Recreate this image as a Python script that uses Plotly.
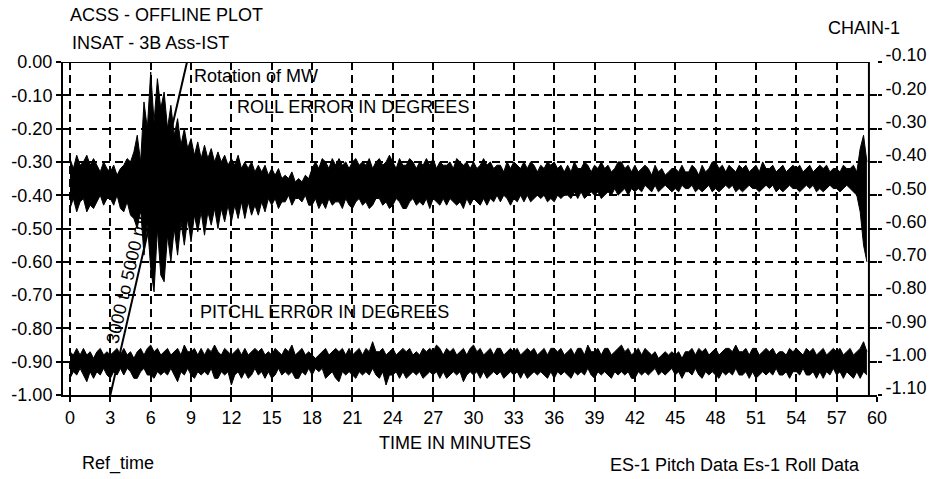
import plotly.graph_objects as go

# ---------------- data ----------------
x_ticks = [0, 3, 6, 9, 12, 15, 18, 21, 24, 27, 30, 33, 36, 39, 42, 45, 48, 51, 54, 57, 60]
x_tick_text = [str(v) for v in x_ticks]
left_ticks = [0.0, -0.1, -0.2, -0.3, -0.4, -0.5, -0.6, -0.7, -0.8, -0.9, -1.0]
left_tick_text = ["0.00", "-0.10", "-0.20", "-0.30", "-0.40", "-0.50", "-0.60", "-0.70", "-0.80", "-0.90", "-1.00"]
right_ticks = [-0.1, -0.2, -0.3, -0.4, -0.5, -0.6, -0.7, -0.8, -0.9, -1.0, -1.1]
right_tick_text = ["-0.10", "-0.20", "-0.30", "-0.40", "-0.50", "-0.60", "-0.70", "-0.80", "-0.90", "-1.00", "-1.10"]

sample_step_min = 0.25  # one reading every quarter minute

# upper / lower edge of the roll-error trace (degrees), 4 readings per minute
roll_upper = [
    -0.29, -0.32, -0.28, -0.31,  -0.30, -0.28, -0.31, -0.29,  -0.31, -0.33, -0.30, -0.32,  # 0-2
    -0.33, -0.31, -0.34, -0.32,  -0.31, -0.29, -0.30, -0.27,  -0.22, -0.30, -0.12, -0.20,  # 3-5
    -0.03, -0.18, -0.05, -0.14,  -0.09, -0.20, -0.13, -0.22,  -0.17, -0.25, -0.20, -0.26,  # 6-8
    -0.23, -0.28, -0.24, -0.29,  -0.25, -0.29, -0.26, -0.30,  -0.27, -0.30, -0.28, -0.31,  # 9-11
    -0.29, -0.31, -0.28, -0.32,  -0.30, -0.32, -0.30, -0.33,  -0.31, -0.33, -0.31, -0.34,  # 12-14
    -0.32, -0.34, -0.32, -0.35,  -0.34, -0.35, -0.33, -0.36,  -0.35, -0.36, -0.34, -0.35,  # 15-17
    -0.32, -0.30, -0.32, -0.29,  -0.30, -0.32, -0.29, -0.31,  -0.29, -0.31, -0.30, -0.32,  # 18-20
    -0.30, -0.29, -0.31, -0.30,  -0.31, -0.29, -0.32, -0.30,  -0.29, -0.31, -0.30, -0.28,  # 21-23
    -0.30, -0.32, -0.29, -0.31,  -0.31, -0.29, -0.30, -0.32,  -0.30, -0.31, -0.29, -0.31,  # 24-26
    -0.29, -0.32, -0.30, -0.31,  -0.31, -0.30, -0.32, -0.29,  -0.30, -0.31, -0.30, -0.32,  # 27-29
    -0.30, -0.32, -0.31, -0.29,  -0.31, -0.30, -0.32, -0.31,  -0.31, -0.33, -0.30, -0.32,  # 30-32
    -0.30, -0.31, -0.32, -0.30,  -0.32, -0.30, -0.31, -0.33,  -0.31, -0.32, -0.30, -0.31,  # 33-35
    -0.30, -0.32, -0.31, -0.33,  -0.31, -0.33, -0.30, -0.32,  -0.32, -0.30, -0.31, -0.33,  # 36-38
    -0.31, -0.32, -0.30, -0.32,  -0.31, -0.33, -0.32, -0.30,  -0.30, -0.32, -0.31, -0.33,  # 39-41
    -0.31, -0.33, -0.32, -0.31,  -0.32, -0.34, -0.31, -0.33,  -0.32, -0.34, -0.33, -0.32,  # 42-44
    -0.32, -0.33, -0.31, -0.33,  -0.33, -0.31, -0.32, -0.34,  -0.31, -0.33, -0.32, -0.30,  # 45-47
    -0.30, -0.32, -0.31, -0.33,  -0.31, -0.32, -0.33, -0.31,  -0.32, -0.31, -0.33, -0.32,  # 48-50
    -0.31, -0.33, -0.30, -0.32,  -0.32, -0.31, -0.33, -0.32,  -0.31, -0.33, -0.32, -0.31,  # 51-53
    -0.32, -0.31, -0.33, -0.32,  -0.31, -0.33, -0.32, -0.31,  -0.32, -0.31, -0.33, -0.32,  # 54-56
    -0.32, -0.33, -0.31, -0.32,  -0.32, -0.31, -0.33, -0.26,  -0.22, -0.30,                # 57-59
]
roll_lower = [
    -0.44, -0.41, -0.45, -0.42,  -0.41, -0.45, -0.43, -0.44,  -0.42, -0.40, -0.43, -0.41,  # 0-2
    -0.41, -0.43, -0.40, -0.44,  -0.45, -0.42, -0.46, -0.47,  -0.50, -0.44, -0.58, -0.48,  # 3-5
    -0.62, -0.69, -0.50, -0.64,  -0.66, -0.52, -0.60, -0.50,  -0.58, -0.48, -0.55, -0.47,  # 6-8
    -0.54, -0.46, -0.51, -0.45,  -0.52, -0.45, -0.49, -0.44,  -0.50, -0.44, -0.48, -0.43,  # 9-11
    -0.48, -0.43, -0.47, -0.42,  -0.47, -0.42, -0.46, -0.43,  -0.46, -0.42, -0.45, -0.41,  # 12-14
    -0.43, -0.41, -0.44, -0.42,  -0.42, -0.40, -0.43, -0.41,  -0.41, -0.42, -0.40, -0.43,  # 15-17
    -0.43, -0.41, -0.44, -0.42,  -0.44, -0.41, -0.43, -0.42,  -0.42, -0.44, -0.41, -0.43,  # 18-20
    -0.44, -0.42, -0.41, -0.43,  -0.42, -0.44, -0.43, -0.41,  -0.41, -0.43, -0.42, -0.44,  # 21-23
    -0.43, -0.41, -0.42, -0.44,  -0.44, -0.42, -0.41, -0.43,  -0.42, -0.43, -0.41, -0.44,  # 24-26
    -0.41, -0.42, -0.43, -0.41,  -0.43, -0.41, -0.42, -0.43,  -0.42, -0.44, -0.41, -0.43,  # 27-29
    -0.41, -0.42, -0.43, -0.41,  -0.43, -0.41, -0.42, -0.40,  -0.42, -0.40, -0.41, -0.43,  # 30-32
    -0.41, -0.42, -0.40, -0.42,  -0.40, -0.42, -0.41, -0.40,  -0.41, -0.40, -0.42, -0.41,  # 33-35
    -0.42, -0.40, -0.41, -0.40,  -0.40, -0.41, -0.39, -0.41,  -0.39, -0.41, -0.40, -0.39,  # 36-38
    -0.40, -0.39, -0.41, -0.40,  -0.39, -0.40, -0.38, -0.40,  -0.39, -0.38, -0.40, -0.38,  # 39-41
    -0.39, -0.38, -0.39, -0.37,  -0.38, -0.39, -0.37, -0.39,  -0.38, -0.37, -0.38, -0.39,  # 42-44
    -0.38, -0.39, -0.37, -0.38,  -0.38, -0.37, -0.39, -0.38,  -0.39, -0.38, -0.37, -0.39,  # 45-47
    -0.38, -0.39, -0.38, -0.37,  -0.38, -0.37, -0.39, -0.38,  -0.39, -0.38, -0.37, -0.38,  # 48-50
    -0.38, -0.39, -0.38, -0.37,  -0.38, -0.37, -0.39, -0.38,  -0.39, -0.38, -0.37, -0.38,  # 51-53
    -0.38, -0.39, -0.38, -0.37,  -0.38, -0.37, -0.39, -0.38,  -0.39, -0.38, -0.37, -0.38,  # 54-56
    -0.38, -0.39, -0.38, -0.37,  -0.38, -0.39, -0.40, -0.45,  -0.55, -0.60,                # 57-59
]

# upper / lower edge of the pitch-error trace (degrees), 4 readings per minute
pitch_upper = [
    -0.87, -0.88, -0.86, -0.88,  -0.86, -0.88, -0.87, -0.89,  -0.87, -0.86, -0.88, -0.87,  # 0-2
    -0.88, -0.87, -0.86, -0.88,  -0.86, -0.88, -0.87, -0.89,  -0.87, -0.86, -0.88, -0.86,  # 3-5
    -0.85, -0.87, -0.86, -0.88,  -0.87, -0.86, -0.88, -0.87,  -0.86, -0.88, -0.85, -0.87,  # 6-8
    -0.87, -0.86, -0.88, -0.86,  -0.88, -0.86, -0.87, -0.85,  -0.87, -0.88, -0.86, -0.87,  # 9-11
    -0.88, -0.87, -0.86, -0.88,  -0.86, -0.88, -0.87, -0.86,  -0.87, -0.86, -0.88, -0.87,  # 12-14
    -0.88, -0.86, -0.87, -0.88,  -0.86, -0.87, -0.85, -0.88,  -0.87, -0.86, -0.88, -0.87,  # 15-17
    -0.88, -0.89, -0.88, -0.87,  -0.86, -0.88, -0.87, -0.86,  -0.87, -0.86, -0.88, -0.86,  # 18-20
    -0.88, -0.87, -0.86, -0.88,  -0.86, -0.87, -0.84, -0.87,  -0.87, -0.86, -0.88, -0.87,  # 21-23
    -0.86, -0.88, -0.87, -0.86,  -0.87, -0.86, -0.88, -0.87,  -0.88, -0.86, -0.87, -0.86,  # 24-26
    -0.87, -0.85, -0.86, -0.88,  -0.86, -0.87, -0.86, -0.88,  -0.87, -0.86, -0.88, -0.86,  # 27-29
    -0.85, -0.87, -0.86, -0.88,  -0.87, -0.86, -0.88, -0.86,  -0.86, -0.88, -0.87, -0.86,  # 30-32
    -0.87, -0.86, -0.88, -0.87,  -0.86, -0.87, -0.86, -0.88,  -0.87, -0.86, -0.88, -0.86,  # 33-35
    -0.86, -0.87, -0.86, -0.88,  -0.87, -0.86, -0.88, -0.86,  -0.86, -0.88, -0.85, -0.87,  # 36-38
    -0.87, -0.86, -0.88, -0.86,  -0.86, -0.88, -0.87, -0.86,  -0.85, -0.87, -0.86, -0.88,  # 39-41
    -0.87, -0.86, -0.88, -0.86,  -0.87, -0.88, -0.87, -0.89,  -0.88, -0.87, -0.88, -0.87,  # 42-44
    -0.88, -0.87, -0.89, -0.87,  -0.87, -0.86, -0.88, -0.86,  -0.87, -0.86, -0.88, -0.87,  # 45-47
    -0.86, -0.88, -0.87, -0.86,  -0.86, -0.87, -0.85, -0.87,  -0.87, -0.86, -0.88, -0.86,  # 48-50
    -0.86, -0.88, -0.87, -0.86,  -0.87, -0.86, -0.88, -0.87,  -0.87, -0.88, -0.86, -0.87,  # 51-53
    -0.86, -0.87, -0.88, -0.86,  -0.87, -0.86, -0.88, -0.87,  -0.86, -0.88, -0.87, -0.86,  # 54-56
    -0.87, -0.86, -0.88, -0.87,  -0.86, -0.88, -0.87, -0.86,  -0.84, -0.87,                # 57-59
]
pitch_lower = [
    -0.95, -0.93, -0.94, -0.92,  -0.94, -0.96, -0.93, -0.95,  -0.93, -0.94, -0.92, -0.94,  # 0-2
    -0.95, -0.93, -0.94, -0.92,  -0.94, -0.92, -0.93, -0.95,  -0.95, -0.93, -0.92, -0.94,  # 3-5
    -0.94, -0.95, -0.93, -0.94,  -0.93, -0.94, -0.92, -0.94,  -0.96, -0.93, -0.94, -0.92,  # 6-8
    -0.94, -0.95, -0.93, -0.94,  -0.93, -0.94, -0.92, -0.95,  -0.95, -0.93, -0.94, -0.93,  # 9-11
    -0.97, -0.94, -0.93, -0.95,  -0.93, -0.95, -0.94, -0.92,  -0.94, -0.93, -0.95, -0.93,  # 12-14
    -0.95, -0.94, -0.92, -0.94,  -0.93, -0.94, -0.93, -0.95,  -0.95, -0.93, -0.94, -0.92,  # 15-17
    -0.94, -0.92, -0.93, -0.92,  -0.95, -0.94, -0.93, -0.95,  -0.96, -0.93, -0.94, -0.93,  # 18-20
    -0.94, -0.95, -0.93, -0.94,  -0.93, -0.94, -0.92, -0.94,  -0.95, -0.93, -0.97, -0.94,  # 21-23
    -0.94, -0.93, -0.95, -0.93,  -0.95, -0.94, -0.93, -0.94,  -0.93, -0.95, -0.94, -0.93,  # 24-26
    -0.94, -0.93, -0.95, -0.93,  -0.95, -0.94, -0.93, -0.94,  -0.93, -0.96, -0.94, -0.93,  # 27-29
    -0.94, -0.93, -0.95, -0.93,  -0.95, -0.94, -0.93, -0.94,  -0.93, -0.95, -0.94, -0.93,  # 30-32
    -0.94, -0.93, -0.95, -0.93,  -0.95, -0.94, -0.93, -0.94,  -0.93, -0.94, -0.95, -0.93,  # 33-35
    -0.95, -0.93, -0.94, -0.93,  -0.94, -0.95, -0.93, -0.94,  -0.93, -0.94, -0.92, -0.94,  # 36-38
    -0.95, -0.93, -0.94, -0.93,  -0.94, -0.95, -0.93, -0.94,  -0.93, -0.94, -0.93, -0.95,  # 39-41
    -0.95, -0.93, -0.94, -0.93,  -0.94, -0.93, -0.92, -0.94,  -0.93, -0.94, -0.93, -0.92,  # 42-44
    -0.94, -0.93, -0.95, -0.93,  -0.93, -0.94, -0.92, -0.94,  -0.95, -0.93, -0.94, -0.93,  # 45-47
    -0.94, -0.95, -0.93, -0.94,  -0.93, -0.94, -0.92, -0.94,  -0.94, -0.93, -0.95, -0.93,  # 48-50
    -0.95, -0.94, -0.93, -0.94,  -0.93, -0.94, -0.92, -0.94,  -0.94, -0.93, -0.95, -0.93,  # 51-53
    -0.93, -0.94, -0.92, -0.94,  -0.94, -0.93, -0.95, -0.93,  -0.95, -0.93, -0.94, -0.92,  # 54-56
    -0.94, -0.93, -0.95, -0.93,  -0.94, -0.95, -0.93, -0.95,  -0.93, -0.94,                # 57-59
]

time_min = [i * sample_step_min for i in range(len(roll_upper))]

rotation_line_t = [3.0, 8.7]      # "3000 to 5000 rpm" rotation marker
rotation_line_v = [-1.0, 0.0]

frame_end_t = 59.4

# ---------------- figure ----------------
FONT = "Arial, Liberation Sans, sans-serif"
FS = 18
W, H = 932, 479
L, R, T, B = 63, 55, 62, 84
pw, ph = W - L - R, H - T - B


def px(xp):
    return (xp - L) / pw


def py(yp):
    return (H - B - yp) / ph


fig = go.Figure()


def add_band(lower, upper):
    fig.add_trace(go.Scatter(x=time_min[:len(lower)], y=lower, mode="lines",
                             line=dict(color="black", width=1), showlegend=False,
                             hoverinfo="skip"))
    fig.add_trace(go.Scatter(x=time_min[:len(upper)], y=upper, mode="lines",
                             line=dict(color="black", width=1), fill="tonexty",
                             fillcolor="black", showlegend=False, hoverinfo="skip"))


add_band(roll_lower, roll_upper)
add_band(pitch_lower, pitch_upper)

fig.add_trace(go.Scatter(x=rotation_line_t, y=rotation_line_v, mode="lines",
                         line=dict(color="black", width=2), showlegend=False,
                         hoverinfo="skip"))
# dummy trace to activate the right-hand axis
fig.add_trace(go.Scatter(x=[None], y=[None], yaxis="y2", showlegend=False,
                         hoverinfo="skip"))

# frame (top + right edge)
fig.add_shape(type="line", xref="x", yref="y", x0=-0.52, x1=frame_end_t, y0=0, y1=0,
              line=dict(color="black", width=2))
fig.add_shape(type="line", xref="x", yref="y", x0=frame_end_t, x1=frame_end_t, y0=-1.0, y1=0,
              line=dict(color="black", width=2))

grid = dict(showgrid=True, gridcolor="black", gridwidth=1.6, griddash="8px,5px")

fig.update_layout(
    template="none",
    width=W, height=H,
    margin=dict(l=L, r=R, t=T, b=B, autoexpand=False),
    paper_bgcolor="white", plot_bgcolor="white",
    font=dict(family=FONT, size=FS, color="black"),
    showlegend=False,
    xaxis=dict(range=[-0.52, 60.0], tickvals=x_ticks, ticktext=x_tick_text,
               ticks="outside", ticklen=5, tickwidth=2, tickcolor="black",
               showline=True, linecolor="black", linewidth=2, zeroline=False,
               automargin=False, tickfont=dict(size=FS), **grid),
    yaxis=dict(range=[-1.0, 0.0], tickvals=left_ticks, ticktext=left_tick_text,
               ticks="outside", ticklen=5, tickwidth=2, tickcolor="black",
               showline=True, linecolor="black", linewidth=2, zeroline=False,
               automargin=False, tickfont=dict(size=FS), **grid),
    yaxis2=dict(range=[-1.1, -0.1], overlaying="y", side="right",
                tickvals=right_ticks, ticktext=right_tick_text,
                ticks="outside", ticklen=4, tickwidth=2, tickcolor="black",
                showline=False, showgrid=False, zeroline=False, automargin=False,
                ticklabelshift=-7, tickfont=dict(size=FS)),
)

ann = [
    ("ACSS - OFFLINE PLOT", 68, 15, "left"),
    ("INSAT - 3B Ass-IST", 70, 43, "left"),
    ("CHAIN-1", 826, 28, "left"),
    ("Rotation of MW", 192, 76, "left"),
    ("ROLL ERROR IN DEGREES", 235, 107, "left"),
    ("PITCHL ERROR IN DEGREES", 198, 312, "left"),
    ("TIME IN MINUTES", 455, 443, "center"),
    ("Ref_time", 80, 463, "left"),
    ("ES-1 Pitch Data Es-1 Roll Data", 608, 465, "left"),
]
for text, x0, y0, anchor in ann:
    fig.add_annotation(text=text, x=px(x0), y=py(y0), xref="paper", yref="paper",
                       xanchor=anchor, yanchor="middle", showarrow=False,
                       font=dict(family=FONT, size=FS, color="black"))

fig.add_annotation(text="3000 to 5000 rpm", x=px(128), y=py(275), xref="paper", yref="paper",
                   xanchor="center", yanchor="middle", showarrow=False, textangle=-77,
                   font=dict(family=FONT, size=FS, color="black"))

fig.write_html("out.html", config={"displayModeBar": False},
               post_script="document.body.style.margin='0';")
